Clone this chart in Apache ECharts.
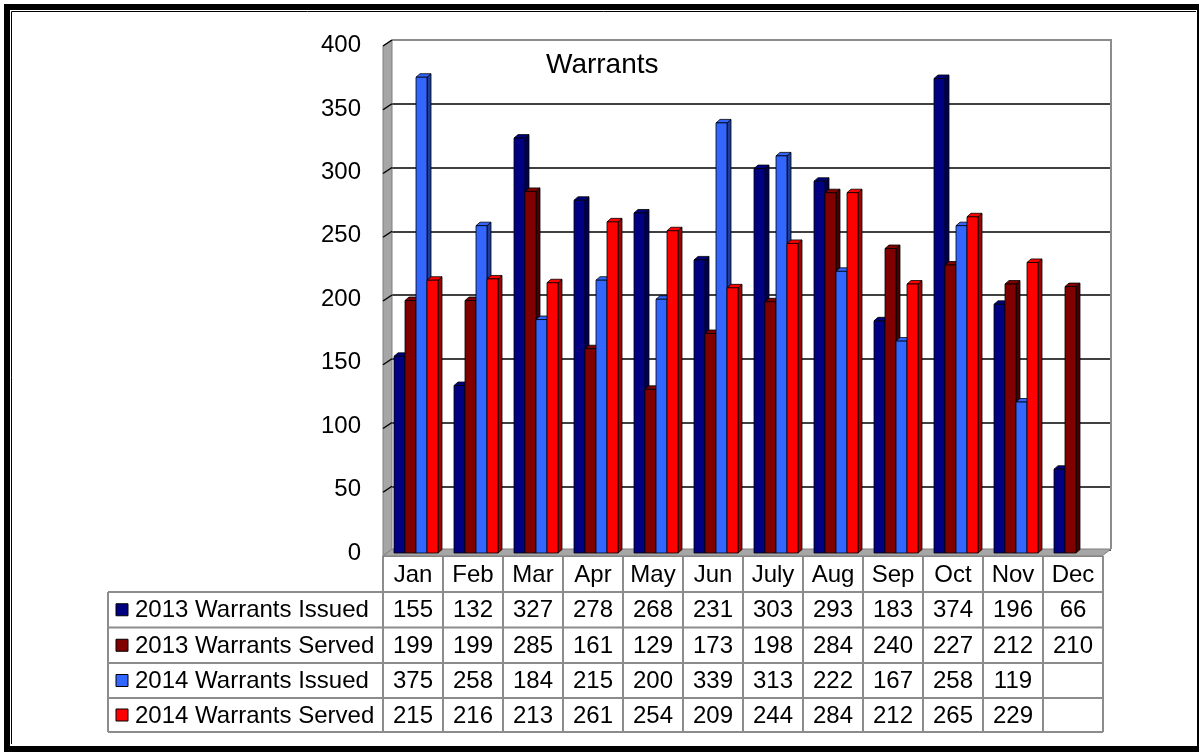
<!DOCTYPE html>
<html>
<head>
<meta charset="utf-8">
<title>Warrants</title>
<script src="https://cdn.jsdelivr.net/npm/echarts@6/dist/echarts.min.js"></script>
<style>
  html, body { margin: 0; padding: 0; background: #fff; }
  #chart { width: 1201px; height: 752px; }
</style>
</head>
<body>
<div id="chart"></div>
<script>
// data
const months = ['Jan', 'Feb', 'Mar', 'Apr', 'May', 'Jun', 'July', 'Aug', 'Sep', 'Oct', 'Nov', 'Dec']
const issued2013 = [155, 132, 327, 278, 268, 231, 303, 293, 183, 374, 196, 66]
const served2013 = [199, 199, 285, 161, 129, 173, 198, 284, 240, 227, 212, 210]
const issued2014 = [375, 258, 184, 215, 200, 339, 313, 222, 167, 258, 119, null]
const served2014 = [215, 216, 213, 261, 254, 209, 244, 284, 212, 265, 229, null]
const yTicks = [0, 50, 100, 150, 200, 250, 300, 350, 400]

const seriesList = [
  { name: '2013 Warrants Issued', values: issued2013, color: '#000080', side: '#00004a' },
  { name: '2013 Warrants Served', values: served2013, color: '#800000', side: '#4a0000' },
  { name: '2014 Warrants Issued', values: issued2014, color: '#3366FF', side: '#1f3f9e' },
  { name: '2014 Warrants Served', values: served2014, color: '#FF0000', side: '#a00000' }
]

const FONT = '"Liberation Sans", Arial, sans-serif'
const chart = echarts.init(document.getElementById('chart'))

// 3d-ish bar: front face + side + top
function barRenderer(s) {
  const info = seriesList[s]
  return function (params, api) {
    const v = api.value(1)
    if (v == null || isNaN(v)) return
    const base = api.coord([api.value(0), 0])
    const top = api.coord([api.value(0), v])
    const cw = api.size([1, 0])[0]
    const x0 = base[0] - cw / 2 + 11 + 11 * s
    const w = 11
    const dx = 4
    const dy = 3.5
    const line = { stroke: '#000', lineWidth: 0.8 }
    return {
      type: 'group',
      children: [
        {
          type: 'polygon',
          shape: { points: [[x0 + w, top[1]], [x0 + w + dx, top[1] - dy], [x0 + w + dx, base[1] - dy], [x0 + w, base[1]]] },
          style: Object.assign({ fill: info.side }, line)
        },
        {
          type: 'polygon',
          shape: { points: [[x0, top[1]], [x0 + dx, top[1] - dy], [x0 + w + dx, top[1] - dy], [x0 + w, top[1]]] },
          style: Object.assign({ fill: info.color }, line)
        },
        {
          type: 'rect',
          shape: { x: x0, y: top[1], width: w, height: base[1] - top[1] },
          style: Object.assign({ fill: info.color }, line)
        }
      ]
    }
  }
}

// slanted grid lines on the side wall
function wallLine(params, api) {
  const p = api.coord([0, api.value(1)])
  const x = params.coordSys.x
  return {
    type: 'line',
    shape: { x1: x - 9, y1: p[1] + 6, x2: x, y2: p[1] },
    style: { stroke: '#000', lineWidth: 1.5 }
  }
}

// table + frame
const tLeft = 108
const colLeft = 383
const colW = 60
const rowTops = [556, 592, 627.5, 663, 698, 732]
const gray = '#8c8c8c'
const graphics = []

graphics.push({ type: 'polygon', z: 1, shape: { points: [[383, 46], [392, 40], [392, 550], [383, 556]] }, style: { fill: '#a6a6a6', stroke: '#7f7f7f', lineWidth: 1 } })
graphics.push({ type: 'polygon', z: 1, shape: { points: [[383, 556], [392, 549], [1111, 549], [1102, 556]] }, style: { fill: '#a6a6a6', stroke: '#7f7f7f', lineWidth: 1 } })
graphics.push({ type: 'polyline', z: 1, shape: { points: [[392, 40], [1111, 40], [1111, 549]] }, style: { stroke: '#8c8c8c', lineWidth: 2, fill: null } })

const tableRight = colLeft + colW * months.length
// horizontal lines
graphics.push({ type: 'line', shape: { x1: colLeft, y1: rowTops[0], x2: tableRight, y2: rowTops[0] }, style: { stroke: gray, lineWidth: 2 } })
for (let r = 1; r < rowTops.length; r++) {
  graphics.push({ type: 'line', shape: { x1: tLeft, y1: rowTops[r], x2: tableRight, y2: rowTops[r] }, style: { stroke: gray, lineWidth: 2 } })
}
// vertical lines
graphics.push({ type: 'line', shape: { x1: tLeft, y1: rowTops[1], x2: tLeft, y2: rowTops[5] }, style: { stroke: gray, lineWidth: 2 } })
for (let c = 0; c <= months.length; c++) {
  const x = colLeft + colW * c
  graphics.push({ type: 'line', shape: { x1: x, y1: rowTops[0], x2: x, y2: rowTops[5] }, style: { stroke: gray, lineWidth: 2 } })
}
months.forEach(function (m, c) {
  graphics.push({
    type: 'text', x: colLeft + colW * c + colW / 2, y: (rowTops[0] + rowTops[1]) / 2 + 1,
    style: { text: m, fill: '#000', font: '24px ' + FONT, align: 'center', verticalAlign: 'middle' }
  })
})
seriesList.forEach(function (s, r) {
  const cy = (rowTops[r + 1] + rowTops[r + 2]) / 2
  graphics.push({ type: 'rect', shape: { x: 116, y: cy - 6, width: 12, height: 12 }, style: { fill: s.color, stroke: '#000', lineWidth: 1 } })
  graphics.push({
    type: 'text', x: 135, y: cy + 1,
    style: { text: s.name, fill: '#000', font: '24px ' + FONT, align: 'left', verticalAlign: 'middle' }
  })
  s.values.forEach(function (v, c) {
    if (v == null) return
    graphics.push({
      type: 'text', x: colLeft + colW * c + colW / 2, y: cy + 1,
      style: { text: String(v), fill: '#000', font: '24px ' + FONT, align: 'center', verticalAlign: 'middle' }
    })
  })
})

// outer frame
graphics.push({ type: 'rect', shape: { x: 4, y: 4, width: 6, height: 745 }, style: { fill: '#000' } })
graphics.push({ type: 'rect', shape: { x: 4, y: 4, width: 1195, height: 6 }, style: { fill: '#000' } })
graphics.push({ type: 'rect', shape: { x: 4, y: 746, width: 1195, height: 6 }, style: { fill: '#000' } })
graphics.push({ type: 'rect', shape: { x: 1197, y: 4, width: 2, height: 748 }, style: { fill: '#000' } })
graphics.push({ type: 'polyline', shape: { points: [[11.5, 744], [11.5, 11.5], [1196, 11.5]] }, style: { stroke: '#000', lineWidth: 1, fill: null } })

const option = {
  backgroundColor: '#fff',
  animation: false,
  title: {
    text: 'Warrants',
    left: 546,
    top: 51,
    padding: 0,
    textStyle: { fontFamily: FONT, fontSize: 28, fontWeight: 'normal', color: '#000' }
  },
  grid: [
    { left: 392, top: 40, width: 719, height: 510 },
    { left: 383, top: 45.5, width: 720, height: 507.5 }
  ],
  xAxis: [
    { type: 'category', gridIndex: 0, data: months, show: false },
    { type: 'category', gridIndex: 1, data: months, show: false }
  ],
  yAxis: [
    {
      type: 'value', gridIndex: 0, min: 0, max: 400, interval: 50,
      axisLabel: { show: false }, axisLine: { show: false }, axisTick: { show: false },
      splitLine: { show: true, lineStyle: { color: '#000', width: 1.5 } }
    },
    {
      type: 'value', gridIndex: 1, min: 0, max: 400, interval: 50,
      axisLine: { show: false }, axisTick: { show: false }, splitLine: { show: false },
      axisLabel: { color: '#000', fontFamily: FONT, fontSize: 24, margin: 22, padding: [6, 0, 0, 0] }
    }
  ],
  graphic: graphics,
  series: [
    {
      type: 'custom', xAxisIndex: 0, yAxisIndex: 0, z: 2,
      renderItem: wallLine, encode: { x: 0, y: 1 },
      data: yTicks.filter(function (t) { return t > 0 }).map(function (t) { return [0, t] }),
      silent: true
    }
  ].concat(seriesList.map(function (s, i) {
    return {
      name: s.name, type: 'custom', xAxisIndex: 1, yAxisIndex: 1, z: 3,
      renderItem: barRenderer(i), encode: { x: 0, y: 1 },
      data: s.values.map(function (v, c) { return [c, v] })
    }
  }))
}

chart.setOption(option)
window.addEventListener('resize', () => {
  chart.resize()
})
</script>
</body>
</html>
